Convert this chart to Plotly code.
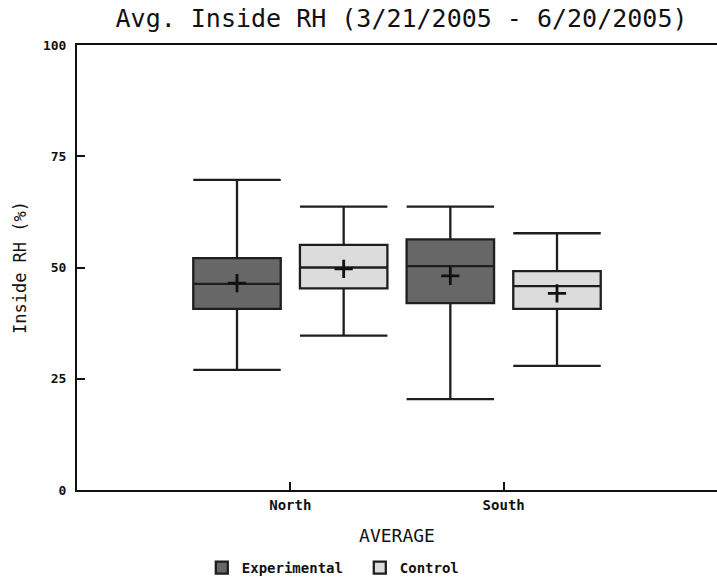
import plotly.graph_objects as go

categories = ["North", "South"]
series_names = ["Experimental", "Control"]

# box statistics per series, ordered as categories
exp_upper = [69.7, 63.7]
exp_q3 = [52.1, 56.3]
exp_median = [46.3, 50.3]
exp_q1 = [40.7, 42.0]
exp_lower = [27.0, 20.4]
exp_mean = [46.5, 48.1]

ctl_upper = [63.7, 57.7]
ctl_q3 = [55.1, 49.2]
ctl_median = [50.0, 45.8]
ctl_q1 = [45.3, 40.7]
ctl_lower = [34.7, 27.9]
ctl_mean = [49.7, 44.2]

y_ticks = [0, 25, 50, 75, 100]

fills = ["#676767", "#dcdcdc"]
offsets = [-0.25, 0.25]
FONT = "DejaVu Sans Mono"

stats = [
    (exp_lower, exp_q1, exp_median, exp_q3, exp_upper, exp_mean),
    (ctl_lower, ctl_q1, ctl_median, ctl_q3, ctl_upper, ctl_mean),
]

fig = go.Figure()
base = list(range(len(categories)))
for i, (name, st) in enumerate(zip(series_names, stats)):
    lo, q1, med, q3, up, mean = st
    xs = [b + offsets[i] for b in base]
    fig.add_trace(go.Box(
        name=name, x=xs, lowerfence=lo, q1=q1, median=med, q3=q3,
        upperfence=up, fillcolor=fills[i],
        line=dict(color="#1e1e1e", width=2.3), whiskerwidth=1,
        width=0.41, boxpoints=False, hoverinfo="skip",
    ))
    fig.add_trace(go.Scatter(
        x=xs, y=mean, mode="markers", showlegend=False, hoverinfo="skip",
        marker=dict(symbol="cross-thin", size=13,
                    line=dict(color="#111111", width=2.8)),
    ))

fig.update_layout(
    width=717, height=579,
    margin=dict(l=77, r=0, t=45, b=89),
    paper_bgcolor="white", plot_bgcolor="white",
    boxmode="overlay",
    title=dict(text="Avg. Inside RH (3/21/2005 - 6/20/2005)",
               font=dict(family=FONT, size=25, color="#111111"),
               x=0.56, xanchor="center", y=0.968, yanchor="middle"),
    xaxis=dict(range=[-1, 2], tickvals=base, ticktext=categories,
               showgrid=False, zeroline=False, showline=True,
               linecolor="#111111", linewidth=2, mirror=True,
               ticks="inside", ticklen=8, tickwidth=2, tickcolor="#111111",
               ticklabelstandoff=1,
               tickfont=dict(family=FONT, size=14, color="#111111",
                             weight="bold"),
               title=dict(text="AVERAGE", standoff=18,
                          font=dict(family=FONT, size=18, color="#111111"))),
    yaxis=dict(range=[0, 100], tickvals=y_ticks,
               showgrid=False, zeroline=False, showline=True,
               linecolor="#111111", linewidth=2,
               ticks="inside", ticklen=8, tickwidth=2, tickcolor="#111111",
               ticklabelstandoff=6,
               tickfont=dict(family=FONT, size=13, color="#111111",
                             weight="bold"),
               title=dict(text="Inside RH (%)", standoff=12,
                          font=dict(family=FONT, size=17, color="#111111"))),
    legend=dict(orientation="h", x=0.195, xanchor="left",
                yref="container", y=0.019, yanchor="middle",
                entrywidth=113, entrywidthmode="pixels",
                font=dict(family=FONT, size=14, color="#111111",
                          weight="bold")),
    showlegend=True,
)

fig.write_html("out.html")
